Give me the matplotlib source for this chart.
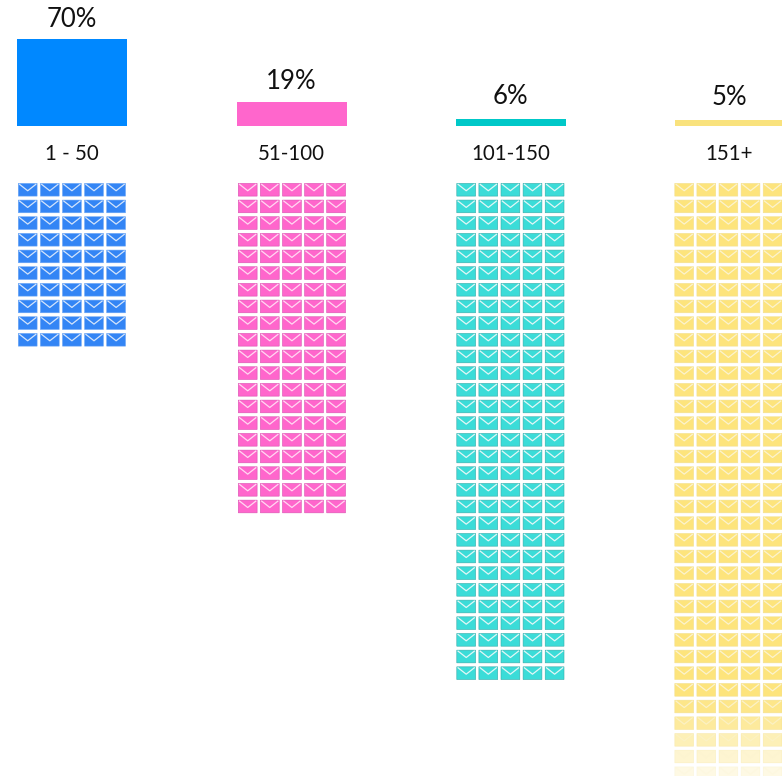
import matplotlib
matplotlib.use("Agg")
import matplotlib.pyplot as plt
from matplotlib.collections import PolyCollection, LineCollection
from matplotlib.colors import to_rgba

categories = ["1 - 50", "51-100", "101-150", "151+"]
percentages = [70, 19, 6, 5]
percent_labels = ["70%", "19%", "6%", "5%"]
icon_rows = [10, 20, 30, 36]
icon_columns = 5

bar_colors = ["#0088ff", "#ff66cc", "#00c8c8", "#f9e27d"]
icon_colors = ["#3385f5", "#ff66cc", "#3bdcd8", "#fde47c"]
edge_colors = ["#6aa5f5", "#d94fb0", "#35aaa8", "#f3e08f"]
flap_colors = ["#d5e5fb", "#ffd9f2", "#e2f7f6", "#fbf3cf"]

W, H = 782, 776
BAR_LEFT = [17, 237, 456, 675]
BAR_W = 110
ICON_LEFT = [18.3, 238.3, 456.8, 674.8]
BASE_Y = 126
PX_PER_PCT = 1.243
TOP_Y = 183.4
ROW_P = 16.67
COL_P = 22.1
ICON_W = 18.8
ICON_H = 12.7
FADE = [1.0, 0.9, 0.75, 0.55, 0.35, 0.2]

plt.rcParams["font.family"] = ["Lato", "DejaVu Sans"]
fig = plt.figure(figsize=(W / 100, H / 100), dpi=100, facecolor="white")

# value bars: baseline at BASE_Y px from the top
ax_b = fig.add_axes([0, 1 - BASE_Y / H, 1, BASE_Y / H])
ax_b.set_xlim(0, W)
ax_b.set_ylim(0, BASE_Y / PX_PER_PCT)
ax_b.axis("off")
ax_b.bar(BAR_LEFT, percentages, width=BAR_W, align="edge", color=bar_colors, linewidth=0)
for x, p, lab, off in zip(BAR_LEFT, percentages, percent_labels, [6.5, 8.5, 9.5, 9.5]):
    ax_b.annotate(lab, (x + BAR_W / 2 - 0.5, p), xytext=(0, off), textcoords="offset pixels",
                  ha="center", va="bottom", fontsize=18.5, color="#111111", annotation_clip=False)

# full-figure pixel axes for category labels and waffles
ax = fig.add_axes([0, 0, 1, 1], facecolor="none")
ax.set_xlim(0, W)
ax.set_ylim(H, 0)
ax.axis("off")
for x, c in zip(BAR_LEFT, categories):
    ax.text(x + BAR_W / 2 - 0.5, 153.5, c, ha="center", va="center", fontsize=14.8, color="#111111")

for k, n in enumerate(icon_rows):
    body, flaps, body_c, edge_c, flap_c = [], [], [], [], []
    for r in range(n):
        fade = FADE[r - (n - len(FADE))] if k == 3 and r >= n - len(FADE) else 1.0
        y = TOP_Y + r * ROW_P
        for c in range(icon_columns):
            x = ICON_LEFT[k] + c * COL_P
            body.append([(x, y), (x + ICON_W, y), (x + ICON_W, y + ICON_H), (x, y + ICON_H)])
            flaps.append([(x + 0.8, y + 0.6), (x + ICON_W / 2, y + ICON_H * 0.58), (x + ICON_W - 0.8, y + 0.6)])
            body_c.append(to_rgba(icon_colors[k], fade))
            edge_c.append(to_rgba(edge_colors[k], fade))
            flap_c.append(to_rgba(flap_colors[k], fade))
    pc = PolyCollection(body, facecolors=body_c, edgecolors=edge_c, linewidths=0.4)
    pc.set_snap(False)
    ax.add_collection(pc)
    lc = LineCollection(flaps, colors=flap_c, linewidths=0.9)
    lc.set_snap(False)
    ax.add_collection(lc)

fig.savefig("out.png", dpi=100)
